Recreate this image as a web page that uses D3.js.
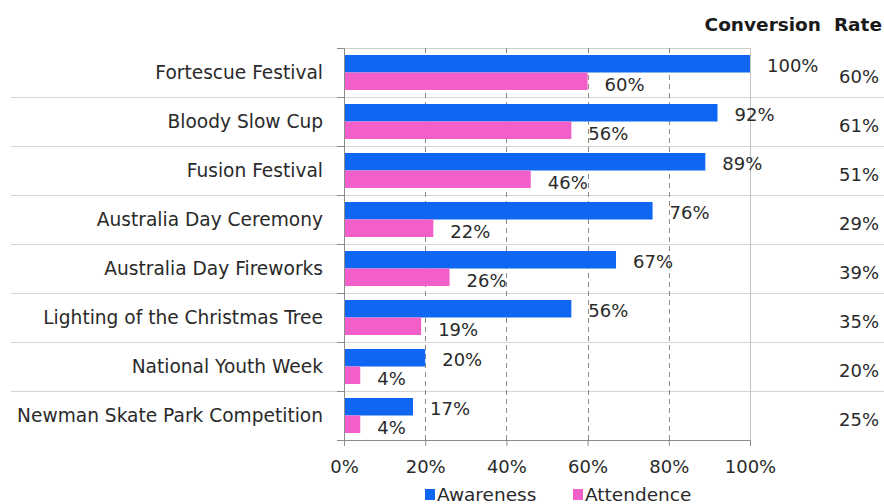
<!DOCTYPE html>
<html>
<head>
<meta charset="utf-8">
<script src="https://cdn.jsdelivr.net/npm/d3@7"></script>
<style>
  html, body { margin: 0; padding: 0; background: #fff; }
  svg { display: block; font-family: "DejaVu Sans", Verdana, sans-serif; }
</style>
</head>
<body>
<svg id="chart" width="884" height="504"></svg>
<script>
// Events, top to bottom
const categories = [
  "Fortescue Festival",
  "Bloody Slow Cup",
  "Fusion Festival",
  "Australia Day Ceremony",
  "Australia Day Fireworks",
  "Lighting of the Christmas Tree",
  "National Youth Week",
  "Newman Skate Park Competition"
];
const seriesNames = ["Awareness", "Attendence"];
const awareness  = [100, 92, 89, 76, 67, 56, 20, 17];
const attendence = [60, 56, 46, 22, 26, 19, 4, 4];
const conversionRate = [60, 61, 51, 29, 39, 35, 20, 25];
const xTicks = [0, 20, 40, 60, 80, 100];
const headerText = "Conversion  Rate";

const colors = { Awareness: "#0f66f2", Attendence: "#f25fc8" };
const textColor = "#2a2a2a";

const svg = d3.select("#chart");

const plot = { left: 344, right: 750, top: 48, bottom: 440 };

const x = d3.scaleLinear().domain([0, 100]).range([plot.left, plot.right]);
const y = d3.scaleBand().domain(categories).range([plot.top, plot.bottom]).padding(0);
const ySub = d3.scaleBand().domain(seriesNames).range([0, y.bandwidth()])
  .paddingInner(0).paddingOuter(0.4);

const rows = categories.map((c, i) => ({
  cat: c,
  Awareness: awareness[i],
  Attendence: attendence[i],
  rate: conversionRate[i]
}));

// Row separators across the whole width
svg.append("g").selectAll("line")
  .data(categories.slice(1))
  .join("line")
  .attr("x1", 11).attr("x2", 884)
  .attr("y1", d => y(d) + 0.5).attr("y2", d => y(d) + 0.5)
  .attr("stroke", "#d4d4d4").attr("stroke-width", 1);

// Top border of plot area and right edge at 100%
svg.append("line")
  .attr("x1", plot.left).attr("x2", plot.right)
  .attr("y1", plot.top + 0.5).attr("y2", plot.top + 0.5)
  .attr("stroke", "#cfcfcf");
svg.append("line")
  .attr("x1", x(100) + 0.5).attr("x2", x(100) + 0.5)
  .attr("y1", plot.top).attr("y2", plot.bottom)
  .attr("stroke", "#c4c4c4");

// Dashed vertical gridlines
svg.append("g").selectAll("line")
  .data(xTicks.filter(t => t > 0 && t < 100))
  .join("line")
  .attr("x1", d => Math.round(x(d)) + 0.5).attr("x2", d => Math.round(x(d)) + 0.5)
  .attr("y1", plot.top).attr("y2", plot.bottom)
  .attr("stroke", "#8a8a8a").attr("stroke-dasharray", "5,4");

// Bars
const groups = svg.append("g").selectAll("g")
  .data(rows)
  .join("g")
  .attr("transform", d => `translate(0,${y(d.cat)})`);

groups.selectAll("rect")
  .data(d => seriesNames.map(s => ({ s, v: d[s] })))
  .join("rect")
  .attr("x", x(0))
  .attr("y", d => ySub(d.s))
  .attr("width", d => x(d.v) - x(0))
  .attr("height", ySub.bandwidth())
  .attr("fill", d => colors[d.s]);

// Value labels beside each bar
const labelShift = { Awareness: 2, Attendence: 3 };
groups.selectAll("text.val")
  .data(d => seriesNames.map(s => ({ s, v: d[s] })))
  .join("text")
  .attr("class", "val")
  .attr("x", d => x(d.v) + 17)
  .attr("y", d => ySub(d.s) + ySub.bandwidth() / 2 + labelShift[d.s])
  .attr("dy", "0.36em")
  .attr("font-size", 18)
  .attr("fill", textColor)
  .text(d => d.v + "%");

// Conversion rate column
groups.append("text")
  .attr("x", 879)
  .attr("y", y.bandwidth() / 2 + 4)
  .attr("dy", "0.36em")
  .attr("text-anchor", "end")
  .attr("font-size", 18)
  .attr("fill", textColor)
  .text(d => d.rate + "%");

svg.append("text")
  .attr("x", 882)
  .attr("y", 31)
  .attr("text-anchor", "end")
  .attr("font-size", 18.5)
  .attr("font-weight", "bold")
  .attr("fill", "#1a1a1a")
  .style("white-space", "pre")
  .text(headerText);

// Category axis on the left, ticks at row boundaries
const yAxisG = svg.append("g");
yAxisG.append("line")
  .attr("x1", plot.left + 0.5).attr("x2", plot.left + 0.5)
  .attr("y1", plot.top).attr("y2", plot.bottom)
  .attr("stroke", "#8c8c8c");
yAxisG.selectAll("line.tick")
  .data(categories.map(c => y(c)).concat([plot.bottom]))
  .join("line")
  .attr("class", "tick")
  .attr("x1", plot.left - 7).attr("x2", plot.left)
  .attr("y1", d => Math.round(d) + 0.5).attr("y2", d => Math.round(d) + 0.5)
  .attr("stroke", "#8c8c8c");
yAxisG.selectAll("text")
  .data(categories)
  .join("text")
  .attr("x", 323)
  .attr("y", d => y(d) + y.bandwidth() / 2)
  .attr("dy", "0.36em")
  .attr("text-anchor", "end")
  .attr("font-size", 18.6)
  .attr("fill", textColor)
  .text(d => d);

// Percentage axis along the bottom
const xAxis = d3.axisBottom(x)
  .tickValues(xTicks)
  .tickFormat(d => d + "%")
  .tickSize(6)
  .tickPadding(14);
const xAxisG = svg.append("g")
  .attr("transform", `translate(0,${plot.bottom})`)
  .call(xAxis);
xAxisG.select(".domain").attr("stroke", "#8c8c8c");
xAxisG.selectAll(".tick line").attr("stroke", "#8c8c8c");
xAxisG.selectAll(".tick text")
  .attr("font-size", 18)
  .attr("font-family", "DejaVu Sans, Verdana, sans-serif")
  .attr("fill", textColor);

// Legend
const legend = svg.append("g").attr("transform", "translate(425,489)");
const legendX = { Awareness: 0, Attendence: 148 };
const li = legend.selectAll("g")
  .data(seriesNames)
  .join("g")
  .attr("transform", d => `translate(${legendX[d]},0)`);
li.append("rect")
  .attr("width", 10).attr("height", 11)
  .attr("fill", d => colors[d]);
li.append("text")
  .attr("x", 12)
  .attr("y", 12)
  .attr("font-size", 18.5)
  .attr("fill", textColor)
  .text(d => d);
</script>
</body>
</html>
